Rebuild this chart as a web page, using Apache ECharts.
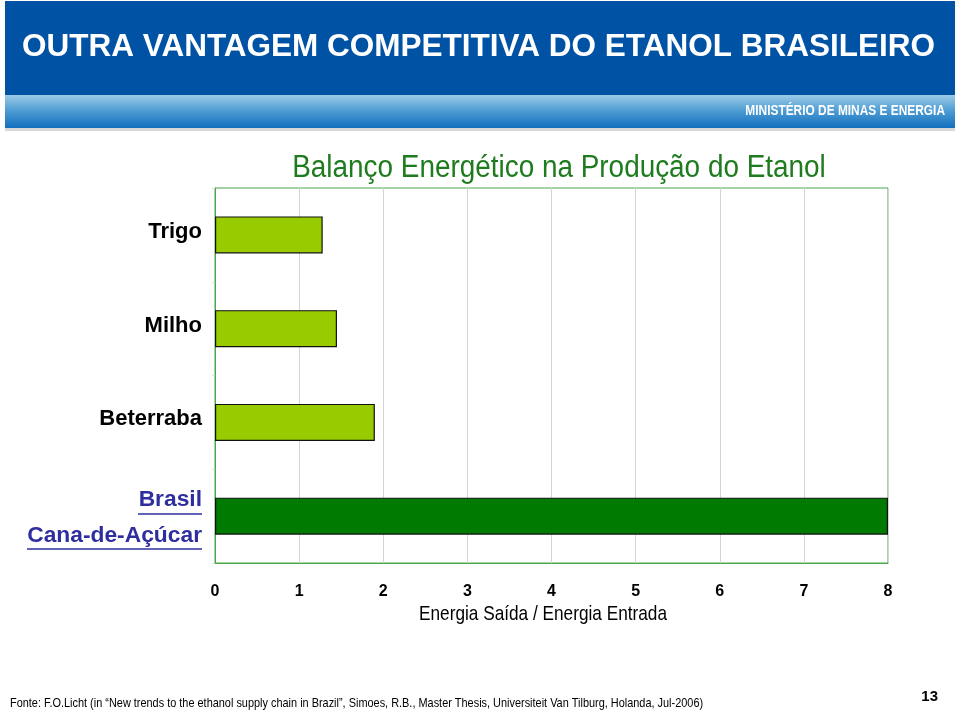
<!DOCTYPE html>
<html><head><meta charset="utf-8">
<script src="https://cdn.jsdelivr.net/npm/echarts@6/dist/echarts.min.js"></script>
<style>html,body{margin:0;padding:0;background:#fff}#c{width:960px;height:711px}</style>
</head><body><div id="c"></div>
<script>
const categories = ['Trigo', 'Milho', 'Beterraba', 'Brasil\nCana-de-Açúcar'];
const values = [1.28, 1.45, 1.9, 8.0];
const xTicks = [0, 1, 2, 3, 4, 5, 6, 7, 8];
const SANS = '"Liberation Sans", Arial, sans-serif';

const chart = echarts.init(document.getElementById('c'));
chart.setOption({
  animation: false,
  backgroundColor: '#fff',
  graphic: [
    { type: 'rect', shape: { x: 5, y: 1, width: 950, height: 94 }, style: { fill: '#0052A5' } },
    { type: 'rect', shape: { x: 5, y: 95, width: 950, height: 33 },
      style: { fill: new echarts.graphic.LinearGradient(0, 0, 0, 1, [
        { offset: 0, color: '#9CCAE6' }, { offset: 0.5, color: '#4A9AD2' }, { offset: 1, color: '#136FBE' }]) } },
    { type: 'rect', shape: { x: 5, y: 128, width: 950, height: 3 }, style: { fill: '#D8D8D8' } },
    { type: 'text', x: 22, y: 47, style: { text: 'OUTRA VANTAGEM COMPETITIVA DO ETANOL BRASILEIRO',
        fill: '#fff', font: 'bold 31.5px ' + SANS, textVerticalAlign: 'middle' } },
    { type: 'text', x: 945, y: 111, scaleX: 0.85, style: { text: 'MINISTÉRIO DE MINAS E ENERGIA', fill: '#fff',
        font: 'bold 14px ' + SANS, textAlign: 'right', textVerticalAlign: 'middle' } },
    { type: 'text', x: 559, y: 168, scaleX: 0.9, style: { text: 'Balanço Energético na Produção do Etanol',
        fill: '#1E7B1E', font: '31px ' + SANS, textAlign: 'center', textVerticalAlign: 'middle' } },
    { type: 'text', x: 543, y: 614, scaleX: 0.82, style: { text: 'Energia Saída / Energia Entrada',
        fill: '#000', font: '21px ' + SANS, textAlign: 'center', textVerticalAlign: 'middle' } },
    { type: 'line', shape: { x1: 138, y1: 514, x2: 202, y2: 514 }, style: { stroke: '#2E2E9E', lineWidth: 1.5 } },
    { type: 'line', shape: { x1: 27, y1: 549, x2: 202, y2: 549 }, style: { stroke: '#2E2E9E', lineWidth: 1.5 } },
    { type: 'text', x: 10, y: 703, scaleX: 0.84, style: { text: 'Fonte: F.O.Licht (in “New trends to the ethanol supply chain in Brazil”, Simoes, R.B., Master Thesis, Universiteit Van Tilburg, Holanda, Jul-2006)',
        fill: '#000', font: '13px ' + SANS, textVerticalAlign: 'middle' } },
    { type: 'text', x: 938, y: 697, style: { text: '13', fill: '#000', font: 'bold 15px ' + SANS,
        textAlign: 'right', textVerticalAlign: 'middle' } }
  ],
  grid: { left: 215, right: 72, top: 188, bottom: 148, show: true, borderColor: '#4CA64C', borderWidth: 1 },
  xAxis: {
    type: 'value', min: 0, max: 8, interval: 1,
    axisLine: { show: true, lineStyle: { color: '#4CA64C' } },
    axisTick: { show: false },
    axisLabel: { color: '#000', fontFamily: SANS, fontWeight: 'bold', fontSize: 16, margin: 21,
      formatter: v => xTicks.includes(v) ? String(v) : '' },
    splitLine: { show: true, lineStyle: { color: '#D4D4D4' } }
  },
  yAxis: {
    type: 'category', data: categories, inverse: true,
    axisLine: { show: true, lineStyle: { color: '#4CA64C' } },
    axisTick: { show: true, length: 3, lineStyle: { color: '#DDDDDD' } },
    axisLabel: {
      margin: 13, align: 'right',
      formatter: (v, i) => i === 3 ? '{b|' + v + '}' : '{n|' + v + '}',
      rich: { n: { color: '#000', fontFamily: SANS, fontWeight: 'bold', fontSize: 22, lineHeight: 34, padding: [0, 0, 6, 0] },
              b: { color: '#2E2E9E', fontFamily: SANS, fontWeight: 'bold', fontSize: 22.8, lineHeight: 36, padding: [3, 0, 0, 0] } }
    }
  },
  series: [{
    type: 'bar', barWidth: 37,
    data: values.map((v, i) => ({ value: v, itemStyle: { color: i === 3 ? '#007A00' : '#99CC00' } })),
    itemStyle: { borderColor: '#111', borderWidth: 1.2 }
  }]
});
</script></body></html>
